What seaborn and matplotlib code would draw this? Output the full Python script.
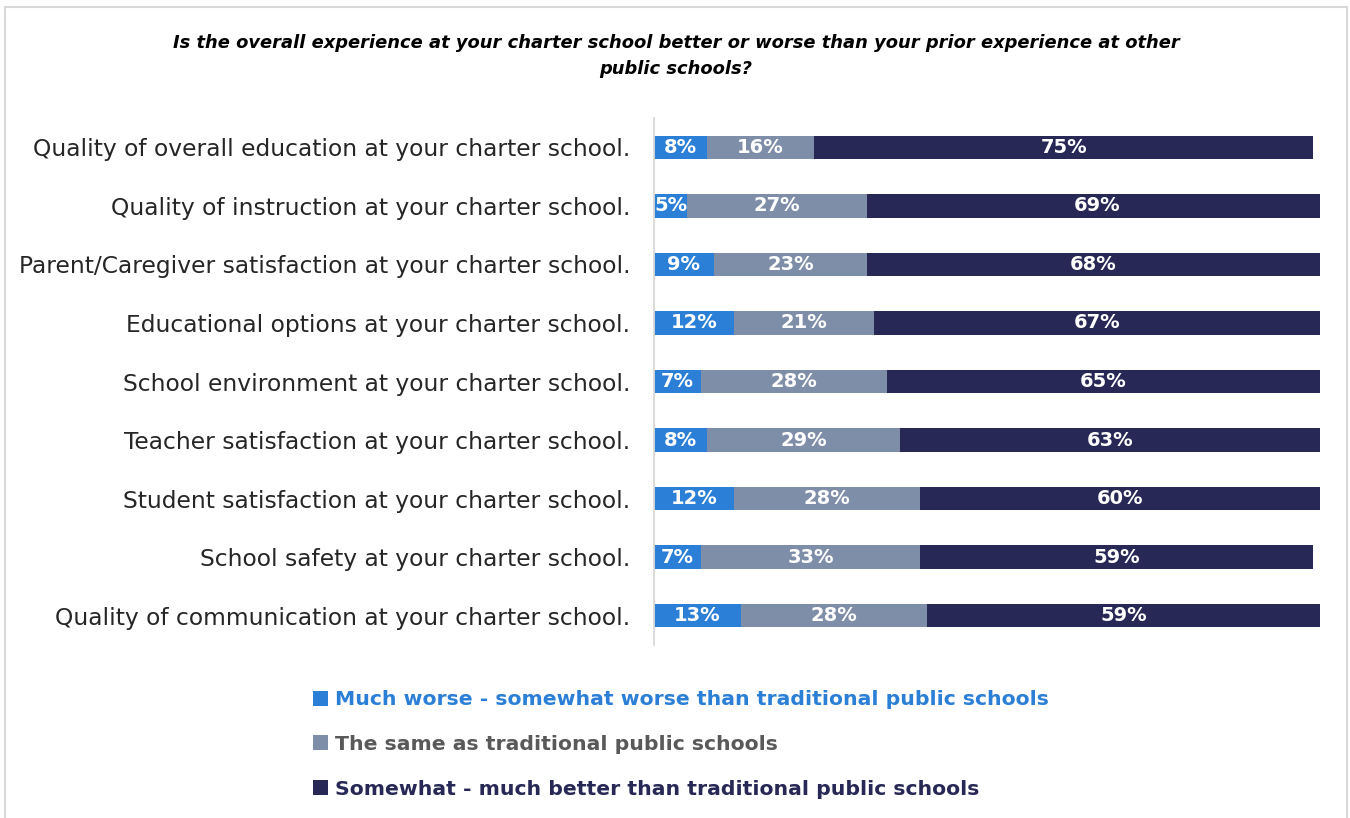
import matplotlib
matplotlib.use("Agg")
import matplotlib.pyplot as plt
from matplotlib.patches import Patch, Rectangle
import numpy as np
import pandas as pd
import seaborn as sns

categories = [
    "Quality of overall education at your charter school.",
    "Quality of instruction at your charter school.",
    "Parent/Caregiver satisfaction at your charter school.",
    "Educational options at your charter school.",
    "School environment at your charter school.",
    "Teacher satisfaction at your charter school.",
    "Student satisfaction at your charter school.",
    "School safety at your charter school.",
    "Quality of communication at your charter school.",
]
worse = [8, 5, 9, 12, 7, 8, 12, 7, 13]
same = [16, 27, 23, 21, 28, 29, 28, 33, 28]
better = [75, 69, 68, 67, 65, 63, 60, 59, 59]
series_names = [
    "Much worse - somewhat worse than traditional public schools",
    "The same as traditional public schools",
    "Somewhat - much better than traditional public schools",
]
title = ("Is the overall experience at your charter school better or worse than your prior experience at other\n"
         "public schools?")

colors = ["#2B7FD6", "#7F8EA8", "#272856"]
text_colors = ["#2B7FD6", "#595959", "#272856"]

sns.set_theme(style="white")
plt.rcParams["font.family"] = ["DejaVu Sans"]

df = pd.DataFrame({"category": categories, "worse": worse, "same": same, "better": better})
df["c1"] = df["worse"]
df["c2"] = df["worse"] + df["same"]
df["c3"] = df["c2"] + df["better"]

fig = plt.figure(figsize=(13.5, 8.18), dpi=100)
ax = fig.add_axes([654 / 1350, 1 - 645 / 818, (1320 - 654) / 1350, (645 - 118) / 818])

# stacked bars drawn as overlapping cumulative totals
for col, c in zip(["c3", "c2", "c1"], colors[::-1]):
    sns.barplot(data=df, x=col, y="category", orient="h", color=c, width=0.4,
                saturation=1, ax=ax, edgecolor="none", linewidth=0)

ax.set_xlim(0, 100)
ax.set_ylim(8.5, -0.5)
ax.set_xlabel("")
ax.set_ylabel("")
ax.set_xticks([])
ax.tick_params(axis="y", length=0, pad=17, labelsize=16.8, labelcolor="#262626")
for s in ["top", "right", "bottom"]:
    ax.spines[s].set_visible(False)
ax.spines["left"].set_color("#D9D9D9")
ax.spines["left"].set_linewidth(1.3)

# segment labels
for i in range(len(categories)):
    lefts = [0, worse[i], worse[i] + same[i]]
    for v, l in zip([worse[i], same[i], better[i]], lefts):
        ax.text(l + v / 2, i, f"{v}%", ha="center", va="center", color="white",
                fontsize=14, fontweight="bold")

fig.text(676 / 1350, 1 - 56 / 818, title, ha="center", va="center", fontsize=12.9,
         fontweight="bold", fontstyle="italic", color="#000000", linespacing=1.5)

handles = [Patch(facecolor=c, edgecolor="none") for c in colors]
leg = fig.legend(handles, series_names, loc="upper left", bbox_to_anchor=(305 / 1350, 1 - 682 / 818),
                 frameon=False, handlelength=0.75, handleheight=0.75, handletextpad=0.3,
                 labelspacing=1.27, prop={"size": 14.7, "weight": "bold"}, labelcolor=text_colors,
                 borderaxespad=0)

# outer frame
fig.patches.append(Rectangle((5 / 1350, -0.01), (1347 - 5) / 1350, 1 - 7 / 818 + 0.01,
                             transform=fig.transFigure, fill=False, edgecolor="#D9D9D9",
                             linewidth=1.5))

fig.savefig("out.png", dpi=100, facecolor="white")
